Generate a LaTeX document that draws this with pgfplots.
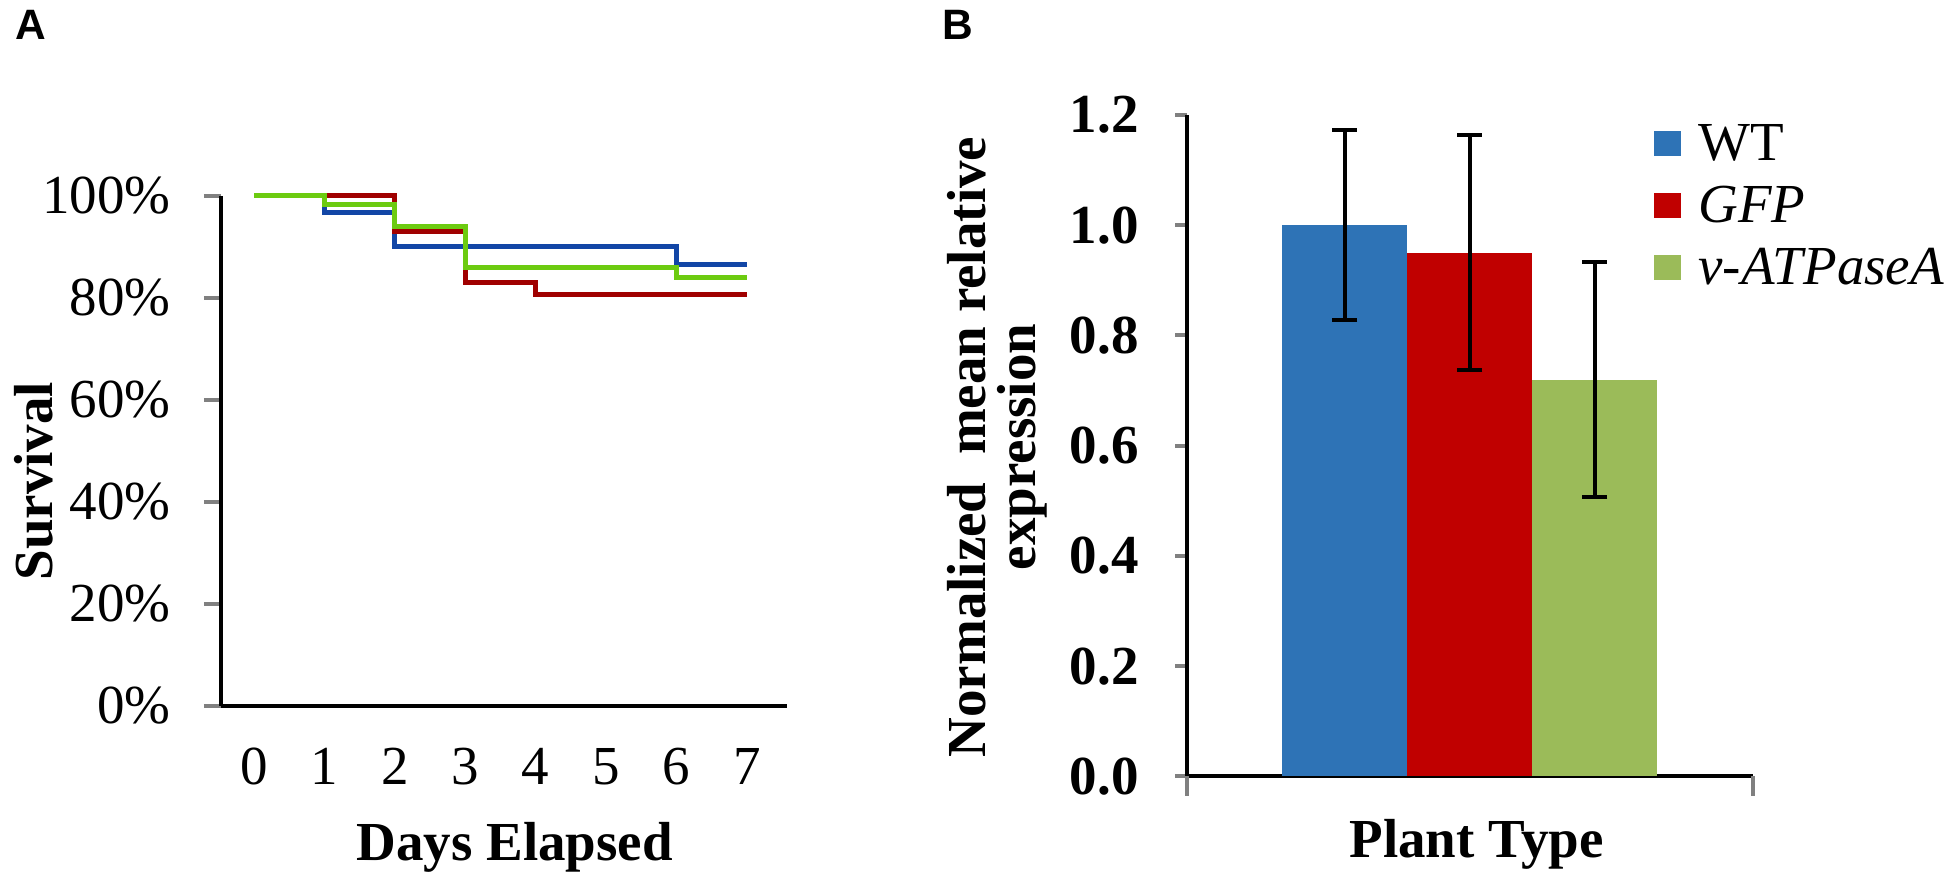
\documentclass[border=0pt]{standalone}
\usepackage{fontspec}
\setmainfont{Liberation Serif}
\newfontfamily\sansfam{Liberation Sans}
\usepackage{pgfplots}
\pgfplotsset{compat=1.18}
\definecolor{kmblue}{HTML}{1246A6}
\definecolor{kmred}{HTML}{A00000}
\definecolor{kmgreen}{HTML}{6CCB10}
\definecolor{wtblue}{HTML}{2E73B6}
\definecolor{gfpred}{HTML}{C00000}
\definecolor{atpgreen}{HTML}{9BBB59}
\begin{document}
\fontsize{11}{13}\selectfont
\begin{tikzpicture}
\useasboundingbox (0pt,0pt) rectangle (390.6pt,-178.6pt);
\node[font=\sansfam\bfseries\fontsize{8.5}{10}\selectfont] at (6.2pt,-5pt) {A};
\node[font=\sansfam\bfseries\fontsize{8.5}{10}\selectfont] at (191.6pt,-5pt) {B};
% Panel A
\begin{axis}[
  at={(44.2pt,-141.2pt)}, anchor=south west,
  width=113.2pt, height=102pt, scale only axis,
  xmin=-0.469, xmax=7.568, ymin=0, ymax=100,
  axis x line*=bottom, axis y line*=left,
  axis line style={line width=0.8pt,-},
  tick align=outside, major tick length=3.4pt,
  xtick={0,1,...,7}, xtick style={draw=none},
  ytick={0,20,...,100}, ytick style={line width=0.8pt},
  yticklabel={\pgfmathprintnumber{\tick}\%},
  /pgf/number format/assume math mode=true,
  xticklabel style={yshift=-1.2pt},
  yticklabel style={xshift=-2.8pt},
  xlabel={Days Elapsed}, ylabel={Survival},
  xlabel style={font=\bfseries, at={(axis description cs:0.519,-0.2765)}, anchor=center},
  ylabel style={font=\bfseries, at={(axis description cs:-0.330,0.441)}, anchor=center},
  clip=false,
]
\addplot[const plot, kmblue, line width=1pt] coordinates {(0,100) (1,96.7) (2,90) (6,86.5) (7,86.5)};
\addplot[const plot, kmred, line width=1pt] coordinates {(0,100) (2,93) (3,83) (4,80.6) (7,80.6)};
\addplot[const plot, kmgreen, line width=1pt] coordinates {(0,100) (1,98.3) (2,94) (3,86) (6,84) (7,84)};
\end{axis}
% Panel B
\begin{axis}[
  at={(237.4pt,-155.3pt)}, anchor=south west,
  width=113.1pt, height=132.3pt, scale only axis,
  xmin=-0.5, xmax=0.5, ymin=0, ymax=1.2,
  axis x line*=bottom, axis y line*=left,
  axis line style={line width=0.8pt,-},
  tick align=outside, major tick length=2.4pt,
  xtick=\empty,
  extra x ticks={-0.5,0.5}, extra x tick labels={},
  extra x tick style={major tick length=3.8pt, tick style={line width=0.8pt}},
  ytick={0,0.2,...,1.2}, tick style={line width=0.8pt},
  /pgf/number format/.cd, fixed, fixed zerofill, precision=1, assume math mode=true,
  /pgfplots/.cd,
  yticklabel style={font=\bfseries, xshift=-3.4pt},
  ybar=0pt, bar width=25pt,
  xlabel={Plant Type},
  ylabel={Normalized\ \ mean relative\\expression},
  xlabel style={font=\bfseries, at={(axis description cs:0.512,-0.102)}, anchor=center},
  ylabel style={font=\bfseries\fontsize{11}{10}\selectfont, align=center, at={(axis description cs:-0.335,0.498)}, anchor=center},
  legend style={at={(axis description cs:0.825,0.992)}, anchor=north west, draw=none, fill=none,
    inner sep=0pt, outer sep=0pt, row sep=1.9pt, column sep=3.6pt,
    nodes={inner sep=0pt, text height=8pt, text depth=2.5pt, anchor=base west}},
  legend cell align=left,
  legend image code/.code={\fill[#1] (0pt,0.8pt) rectangle (5.4pt,5.8pt);},
  clip=false,
]
\addplot[fill=wtblue, draw=none, error bars/.cd, y dir=both, y explicit,
  error bar style={line width=0.8pt, black},
  error mark options={rotate=90, mark size=2.5pt, line width=0.8pt, black}]
  coordinates {(0,1.0) +- (0,0.172)};
\addlegendentry{WT}
\addplot[fill=gfpred, draw=none, error bars/.cd, y dir=both, y explicit,
  error bar style={line width=0.8pt, black},
  error mark options={rotate=90, mark size=2.5pt, line width=0.8pt, black}]
  coordinates {(0,0.95) +- (0,0.213)};
\addlegendentry{\textit{GFP}}
\addplot[fill=atpgreen, draw=none, error bars/.cd, y dir=both, y explicit,
  error bar style={line width=0.8pt, black},
  error mark options={rotate=90, mark size=2.5pt, line width=0.8pt, black}]
  coordinates {(0,0.72) +- (0,0.213)};
\addlegendentry{\textit{v-ATPaseA}}
\end{axis}
\end{tikzpicture}
\end{document}
